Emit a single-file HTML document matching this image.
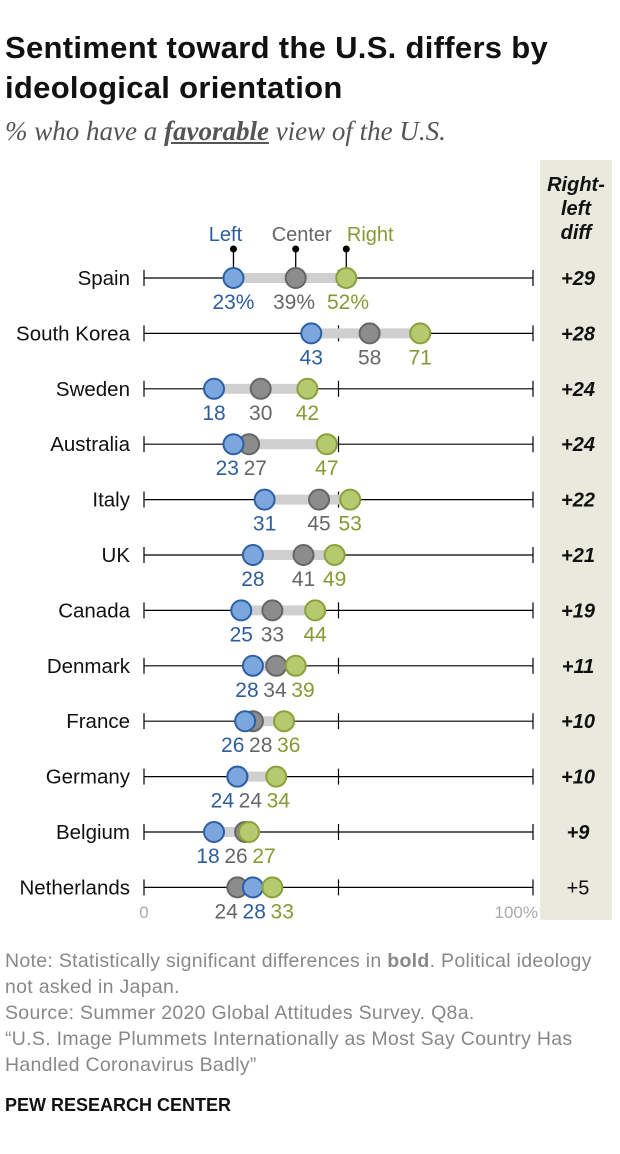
<!DOCTYPE html>
<html><head><meta charset="utf-8"><style>
body{margin:0;background:#fff;font-family:"Liberation Sans",sans-serif;}
#w{position:relative;width:620px;height:1154px;overflow:hidden}
.t{position:absolute;left:5px;top:28px;font-size:31px;font-weight:bold;line-height:40px;color:#111;letter-spacing:0.3px}
.sub{position:absolute;left:5px;top:116px;font-family:"Liberation Serif",serif;font-style:italic;font-size:27px;color:#555}
.note{position:absolute;left:5px;top:948px;font-size:19.5px;line-height:26px;color:#888;letter-spacing:0.3px}
.pew{position:absolute;left:5px;top:1095px;font-size:18px;font-weight:bold;color:#111}
</style></head><body><div id="w">
<div class="t">Sentiment toward the U.S. differs by<br>ideological orientation</div>
<div class="sub">% who have a <b style="text-decoration:underline">favorable</b> view of the U.S.</div>
<svg id="c" width="620" height="940" style="position:absolute;left:0;top:0"></svg>
<div class="note">Note: Statistically significant differences in <b>bold</b>. Political ideology<br>not asked in Japan.<br>Source: Summer 2020 Global Attitudes Survey. Q8a.<br>“U.S. Image Plummets Internationally as Most Say Country Has<br>Handled Coronavirus Badly”</div>
<div class="pew">PEW RESEARCH CENTER</div>
</div>
<script>
const countries=["Spain","South Korea","Sweden","Australia","Italy","UK","Canada","Denmark","France","Germany","Belgium","Netherlands"];
const leftV=[23,43,18,23,31,28,25,28,26,24,18,28];
const centerV=[39,58,30,27,45,41,33,34,28,24,26,24];
const rightV=[52,71,42,47,53,49,44,39,36,34,27,33];
const diffs=["+29","+28","+24","+24","+22","+21","+19","+11","+10","+10","+9","+5"];
const boldDiff=[1,1,1,1,1,1,1,1,1,1,1,0];
const ticks=[0,50,100];
const NS="http://www.w3.org/2000/svg",svg=document.getElementById('c');
const x=v=>144+v*3.89, y=i=>278+i*55.4;
function mk(t,a,txt){const e=document.createElementNS(NS,t);for(const k in a)e.setAttribute(k,a[k]);if(txt!=null)e.textContent=txt;svg.appendChild(e);return e;}
let bg=mk('rect',{x:540,y:160,width:72,height:760,fill:'#e9e9de'});


let h=mk('text',{x:576,y:191,'text-anchor':'middle','font-size':20,'font-weight':'bold','font-style':'italic',fill:'#111'});


["Right-","left","diff"].forEach((s,k)=>{const ts=document.createElementNS(NS,'tspan');ts.setAttribute('x',576);ts.setAttribute('dy',k?24:0);ts.textContent=s;h.appendChild(ts);});
const C={l:['#7ca7dc','#2b5fa8','#2e5d9e'],c:['#8c8c8c','#666','#666'],r:['#b5c96f','#8aa03a','#849a33']};
[['Left',leftV[0],'l'],['Center',centerV[0],'c'],['Right',rightV[0],'r']].forEach(([n,v,k])=>{
 let t=mk('text',{x:x(v)+(k=='l'?-8:k=='r'?24:6),y:241,'text-anchor':'middle','font-size':20,fill:C[k][2]},n);
 
 
 mk('line',{x1:x(v),y1:248,x2:x(v),y2:268,stroke:'#000','stroke-width':1.3});
 mk('circle',{cx:x(v),cy:249,r:3.5,fill:'#000'});
});
countries.forEach((name,i)=>{
 const Y=y(i);
 let lb=mk('text',{x:130,y:Y+7,'text-anchor':'end','font-size':20.5,fill:'#111'},name);
 
 
 mk('line',{x1:x(0),y1:Y,x2:x(100),y2:Y,stroke:'#000','stroke-width':1.2});
 ticks.forEach(t=>mk('line',{x1:x(t),y1:Y-8,x2:x(t),y2:Y+8,stroke:'#000','stroke-width':1.2}));
 const vals=[leftV[i],centerV[i],rightV[i]];
 const mn=Math.min(...vals),mx=Math.max(...vals);
 let bar=mk('rect',{x:x(mn),y:Y-5,width:x(mx)-x(mn),height:10,fill:'#cfcfcf'});
 
 
 [['c',centerV[i]],['l',leftV[i]],['r',rightV[i]]].forEach(([k,v])=>{
  let d=mk('circle',{cx:x(v),cy:Y,r:10,fill:C[k][0],stroke:C[k][1],'stroke-width':2});
  
  
 });
 let L=[['l',leftV[i]],['c',centerV[i]],['r',rightV[i]]].map(([k,v])=>({k,v,p:x(v)}));
 L.sort((a,b)=>a.v-b.v);
 const gap=i==0?54:28;
 for(let it=0;it<20;it++)for(let j=1;j<3;j++){const d=L[j].p-L[j-1].p;if(d<gap){const s=(gap-d)/2;L[j].p+=s;L[j-1].p-=s;}}
 L.forEach(o=>{let t=mk('text',{x:o.p,y:Y+31,'text-anchor':'middle','font-size':21,fill:C[o.k][2]},o.v+(i==0?'%':''));
  
  });
 let dt=mk('text',{x:578,y:Y+7,'text-anchor':'middle','font-size':20,'font-weight':boldDiff[i]?'bold':'normal','font-style':boldDiff[i]?'italic':'normal',fill:'#111'},diffs[i]);
 
 
});
[[0,'0','middle',0],[100,'100%','end',5]].forEach(([v,s,a,o])=>{let t=mk('text',{x:x(v)+o,y:918,'text-anchor':a,'font-size':17,fill:'#aaa'},s);
 
 });
</script></body></html>
